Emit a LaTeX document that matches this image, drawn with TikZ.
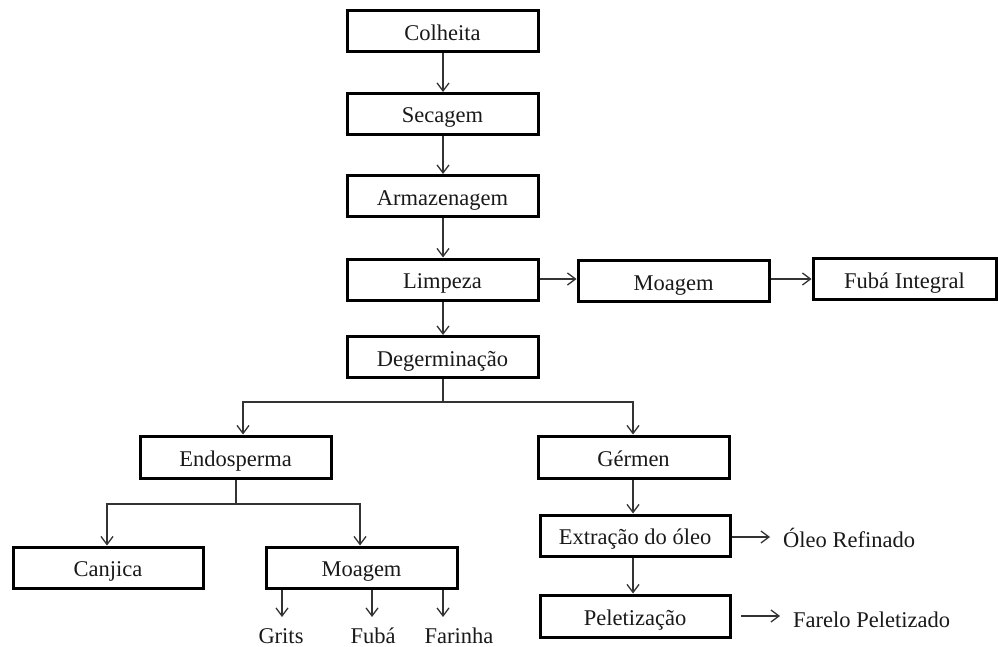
\documentclass[tikz,border=0pt]{standalone}
\usepackage{fontspec}
\setmainfont{Liberation Serif}
\usetikzlibrary{arrows.meta}
\begin{document}
\begin{tikzpicture}[x=1pt,y=-1pt,
  every node/.style={font=\fontsize{22.5}{27}\selectfont, text=black!90},
  box/.style={draw, line width=3pt, minimum height=41pt, inner sep=0pt, text height=18pt, text depth=0pt},
  wbox/.style={box, minimum width=191pt},
  conn/.style={line width=1.3pt, draw=black!80},
  arr/.style={conn, -{Straight Barb[length=8pt,width=12pt,line width=1.3pt]}},
  lbl/.style={inner sep=0pt}]
\useasboundingbox (0,0) rectangle (998,647);
% boxes
\node[wbox] (colheita) at (442.5,31.5) {Colheita};
\node[wbox] (secagem) at (442.5,114) {Secagem};
\node[wbox] (armaz) at (442.5,196) {Armazenagem};
\node[wbox] (limpeza) at (442.5,279.5) {Limpeza};
\node[wbox] (moagemA) at (673.5,281) {Moagem};
\node[box, minimum width=183pt] (fuba) at (904.5,279) {Fubá Integral};
\node[wbox] (degerm) at (442.5,357) {Degerminação};
\node[wbox, minimum height=42pt] (endo) at (235.5,457) {Endosperma};
\node[wbox, minimum height=42pt] (germen) at (633.5,457) {Gérmen};
\node[box, minimum width=190pt] (canjica) at (108,567.5) {Canjica};
\node[wbox] (moagemB) at (361.5,567.5) {Moagem};
\node[box, minimum width=190pt] (extracao) at (635,535.5) {Extração do óleo};
\node[box, minimum width=190pt, minimum height=42pt] (pelet) at (635,616) {Peletização};
% free labels
\node[lbl, anchor=base, text depth=0pt] (grits) at (281,643) {Grits};
\node[lbl, anchor=base, text depth=0pt] (fubab) at (373,643) {Fubá};
\node[lbl, anchor=base, text depth=0pt] (farinha) at (459,643) {Farinha};
\node[lbl, anchor=west] (oleo) at (783,538) {Óleo Refinado};
\node[lbl, anchor=west] (farelo) at (793,620) {Farelo Peletizado};
% main chain
\draw[arr] (colheita.south -| 443,0) -- (secagem.north -| 443,0);
\draw[arr] (secagem.south -| 443,0) -- (armaz.north -| 443,0);
\draw[arr] (armaz.south -| 443,0) -- (limpeza.north -| 443,0);
\draw[arr] (limpeza.south -| 443,0) -- (degerm.north -| 443,0);
\draw[arr] (limpeza.east |- 0,279) -- (moagemA.west |- 0,279);
\draw[arr] (moagemA.east |- 0,279) -- (fuba.west |- 0,279);
% degermination split
\coordinate (d1) at (443,402);
\coordinate (d2) at (243,402);
\coordinate (d3) at (633,402);
\draw[conn] (degerm.south -| d1) -- (d1);
\draw[arr] (d1) -- (d2) -- (endo.north -| d2);
\draw[arr] (d1) -- (d3) -- (germen.north -| d3);
% endosperm split
\coordinate (e1) at (236,504);
\coordinate (e2) at (107,504);
\coordinate (e3) at (360,504);
\draw[conn] (endo.south -| e1) -- (e1);
\draw[arr] (e1) -- (e2) -- (canjica.north -| e2);
\draw[arr] (e1) -- (e3) -- (moagemB.north -| e3);
% moagem outputs
\coordinate (g1) at (282,617);
\coordinate (g2) at (372,617);
\coordinate (g3) at (443,617);
\draw[arr] (moagemB.south -| g1) -- (g1);
\draw[arr] (moagemB.south -| g2) -- (g2);
\draw[arr] (moagemB.south -| g3) -- (g3);
% germ chain
\draw[arr] (germen.south -| 633,0) -- (extracao.north -| 633,0);
\draw[arr] (extracao.south -| 633,0) -- (pelet.north -| 633,0);
\coordinate (o1) at (770,537);
\draw[arr] (extracao.east |- o1) -- (o1);
\coordinate (p0) at (741,616);
\coordinate (p1) at (780,616);
\draw[arr] (p0) -- (p1);
\end{tikzpicture}
\end{document}
